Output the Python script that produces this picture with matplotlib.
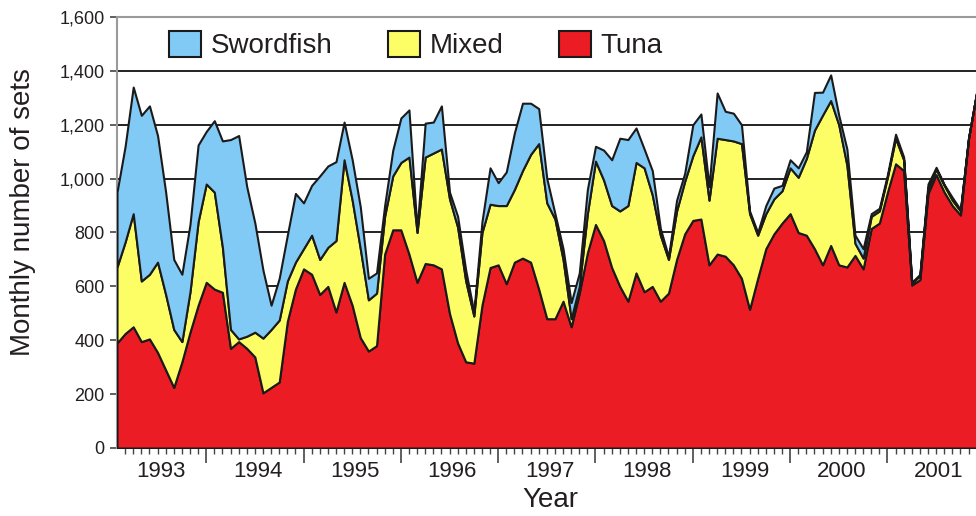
import numpy as np
import matplotlib.pyplot as plt

plt.rcParams['font.family'] = ['Liberation Sans', 'DejaVu Sans']

# monthly number of sets, Feb 1993 .. Dec 2001
tuna = [390, 425, 450, 395, 405, 355, 290, 225, 320, 430, 530, 615,
        590, 578, 370, 395, 370, 338, 205, 225, 245, 470, 590, 665,
        645, 570, 600, 505, 615, 530, 410, 360, 380, 720, 810, 810,
        720, 615, 685, 680, 665, 500, 390, 320, 315, 530, 670, 680,
        610, 690, 705, 690, 590, 480, 480, 545, 450, 575, 725, 830,
        770, 670, 600, 545, 650, 580, 600, 545, 575, 700, 795, 845,
        850, 680, 720, 712, 680, 630, 515, 630, 740, 795, 835, 870,
        800, 790, 740, 680, 752, 680, 672, 715, 665, 815, 835, 950,
        1055, 1030, 605, 625, 945, 1015, 950, 900, 865, 1150, 1320]
mixed = [282, 340, 420, 225, 240, 335, 280, 215, 75, 150, 310, 365,
         360, 167, 70, 10, 45, 92, 203, 215, 230, 150, 100, 75,
         145, 130, 145, 265, 455, 390, 330, 190, 195, 140, 200, 250,
         360, 185, 395, 415, 445, 425, 430, 300, 175, 270, 235, 220,
         290, 270, 325, 400, 540, 430, 370, 155, 30, 25, 145, 235,
         225, 230, 280, 355, 410, 460, 340, 245, 125, 180, 195, 240,
         305, 240, 430, 433, 460, 500, 355, 160, 130, 130, 120, 170,
         205, 285, 440, 556, 538, 520, 378, 45, 40, 45, 45, 56,
         95, 40, 7, 15, 20, 20, 25, 20, 15, 0, 0]
swordfish = [278, 355, 470, 615, 625, 470, 380, 260, 250, 250, 285, 195,
             265, 395, 705, 755, 555, 405, 252, 90, 155, 170, 255, 170,
             185, 310, 302, 293, 140, 150, 155, 80, 75, 40, 95, 165,
             175, 10, 126, 115, 160, 25, 40, 40, 15, 40, 135, 85,
             125, 210, 250, 190, 130, 90, 20, 40, 60, 50, 90, 55,
             111, 170, 270, 245, 128, 70, 90, 25, 10, 40, 30, 115,
             85, 50, 168, 105, 103, 70, 10, 10, 30, 40, 20, 30,
             35, 25, 140, 85, 95, 35, 60, 30, 35, 10, 10, 9,
             15, 10, 3, 5, 15, 7, 3, 10, 5, 0, 0]
months = 1993 + (np.arange(len(tuna)) + 1) / 12
years = list(range(1993, 2002))

text_col = '#231f20'
fig = plt.figure(figsize=(9.76, 5.16), dpi=100)
ax = fig.add_axes([117 / 976, 1 - 448 / 516, 859 / 976, 431 / 516])

polys = ax.stackplot(months, tuna, mixed, swordfish,
                     colors=['#ec1c24', '#fdfd66', '#82caf6'],
                     labels=['Tuna', 'Mixed', 'Swordfish'],
                     edgecolor='#1a1a1a', linewidth=1.5, zorder=3)

for v in range(200, 1600, 200):
    ax.axhline(v, color='#111111', linewidth=1.3, zorder=1)

ax.set_yticks(range(0, 1601, 200))
ax.set_yticklabels([f'{v:,}' for v in range(0, 1601, 200)])

ax.set_xticks(range(1994, 2002))
ax.set_xticklabels([])
ax.set_xticks(np.arange(1993 + 2 / 12, 2001.91, 1 / 12), minor=True)
ax.set_xlim(1993 + 1 / 12, 2001.91)
ax.set_ylim(0, 1600)
ax.tick_params(axis='x', which='major', length=11, width=1.2, color='#444444')
ax.tick_params(axis='x', which='minor', length=4, width=1, color='#444444')
ax.tick_params(axis='y', length=5, width=1.2, color='#444444', pad=4,
               labelsize=13, labelcolor=text_col)

for y in years:
    ax.text(y + 0.53, -0.054, str(y), transform=ax.get_xaxis_transform(),
            ha='center', va='center', fontsize=16, color=text_col)

ax.spines['right'].set_visible(False)
for s in ['left', 'top', 'bottom']:
    ax.spines[s].set_color('#9a9a9a')
    ax.spines[s].set_linewidth(1.5)

ax.set_xlabel('Year', fontsize=20, color=text_col, va='center')
ax.xaxis.set_label_coords(0.504, -0.121)
ax.set_ylabel('Monthly number of sets', fontsize=20, color=text_col, va='center')
ax.yaxis.set_label_coords(-0.11, 0.548)

handles = polys[::-1]
ax.legend(handles, ['Swordfish', 'Mixed', 'Tuna'], ncol=3, frameon=False,
          loc='center', bbox_to_anchor=(0.348, 0.935), fontsize=20,
          handlelength=1.15, handleheight=1.1, handletextpad=0.35,
          columnspacing=2.0, labelcolor=text_col)

fig.savefig('out.png', dpi=100)
